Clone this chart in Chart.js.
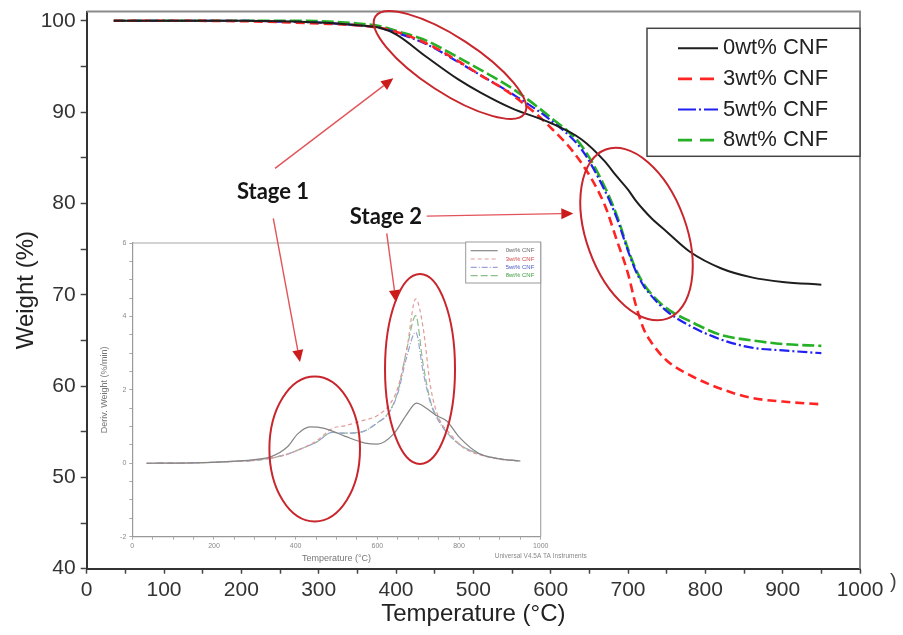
<!DOCTYPE html>
<html>
<head>
<meta charset="utf-8">
<script src="https://cdn.jsdelivr.net/npm/chart.js@4.4.1/dist/chart.umd.min.js"></script>
<style>
  html, body { margin: 0; padding: 0; background: #fff; }
  #wrap { position: relative; width: 903px; height: 635px; overflow: hidden; }
  #wrap canvas { position: absolute; }
</style>
</head>
<body>
<div id="wrap">
  <canvas id="tga" width="903" height="635" style="left:0;top:0"></canvas>
  <canvas id="dtg" width="510" height="336" style="left:90px;top:232px"></canvas>
  <canvas id="marks" width="903" height="635" style="left:0;top:0;pointer-events:none"></canvas>
</div>
<script>
var FONT = '"Liberation Sans", Arial, sans-serif';

// main TGA curves, weight (%) against temperature (°C)
var seriesNames = ['0wt% CNF', '3wt% CNF', '5wt% CNF', '8wt% CNF'];
var temps = [35, 100, 200, 250, 300, 350, 380, 400, 440, 480, 510, 550, 600, 640, 670, 685, 700, 710, 720, 730, 750, 780, 820, 860, 900, 950];
var w0 = [100, 100, 100, 99.95, 99.8, 99.5, 99.2, 98.5, 96.0, 93.6, 92.1, 90.4, 88.8, 87.0, 84.6, 83.0, 81.5, 80.3, 79.3, 78.4, 76.9, 74.7, 72.9, 71.9, 71.4, 71.1];
var w3 = [100, 100, 99.95, 99.85, 99.7, 99.5, 99.2, 98.8, 97.5, 95.6, 94.0, 91.9, 88.3, 84.4, 79.8, 76.1, 72.3, 68.9, 66.3, 64.8, 62.8, 61.2, 59.7, 58.7, 58.3, 58.0];
var w5 = [100, 100, 100, 99.9, 99.8, 99.5, 99.2, 98.7, 97.4, 95.5, 94.0, 92.0, 89.1, 85.9, 81.4, 78.5, 74.8, 72.6, 71.0, 69.9, 68.2, 66.6, 65.1, 64.2, 63.9, 63.6];
var w8 = [100, 100, 100, 100, 99.95, 99.7, 99.4, 98.9, 97.8, 96.0, 94.6, 92.6, 89.4, 86.3, 81.8, 78.8, 75.0, 72.8, 71.2, 70.1, 68.5, 67.1, 65.6, 65.0, 64.6, 64.4];
var xTickLabels = [0, 100, 200, 300, 400, 500, 600, 700, 800, 900, 1000];
var yTickLabels = [40, 50, 60, 70, 80, 90, 100];

// inset DTG curves, deriv. weight (%/min)
var dtgTemps0 = [35, 150, 250, 300, 340, 380, 405, 435, 470, 520, 570, 600, 640, 670, 696, 720, 745, 770, 800, 850, 900, 950];
var dtg0 = [0, 0.01, 0.06, 0.1, 0.18, 0.45, 0.8, 0.99, 0.95, 0.74, 0.55, 0.52, 0.8, 1.3, 1.64, 1.5, 1.3, 1.15, 0.72, 0.26, 0.12, 0.06];
var dtgTemps = [35, 150, 250, 300, 340, 380, 410, 450, 490, 520, 560, 600, 630, 650, 672, 694, 712, 730, 750, 780, 810, 860, 900, 950];
var dtg3 = [0, 0.01, 0.05, 0.08, 0.14, 0.25, 0.38, 0.6, 0.95, 1.02, 1.15, 1.3, 1.6, 2.05, 3.1, 4.48, 3.7, 2.1, 1.25, 0.78, 0.43, 0.2, 0.11, 0.06];
var dtg5 = [0, 0.01, 0.05, 0.08, 0.14, 0.25, 0.38, 0.57, 0.84, 0.82, 0.85, 1.1, 1.4, 1.9, 2.9, 3.57, 2.5, 1.65, 1.15, 0.72, 0.45, 0.22, 0.12, 0.06];
var dtg8 = [0, 0.01, 0.05, 0.08, 0.14, 0.25, 0.38, 0.57, 0.84, 0.82, 0.85, 1.1, 1.42, 1.95, 3.1, 4.02, 2.7, 1.7, 1.18, 0.72, 0.45, 0.22, 0.12, 0.06];
var dtgXLabels = [0, 200, 400, 600, 800, 1000];
var dtgYLabels = [-2, 0, 2, 4, 6];

var mainStyles = [
    { color: '#1e1e1e', width: 2, dash: [], legendDash: [] },
    { color: '#ff2424', width: 2.6, dash: [9, 5], legendDash: [14, 8] },
    { color: '#2020f0', width: 2.2, dash: [10, 3, 2, 3], legendDash: [18, 3, 2, 3] },
    { color: '#25b025', width: 2.6, dash: [12, 4], legendDash: [14, 8] }
];
var insetStyles = [
    { color: '#858585', width: 1.2, dash: [], legendDash: [], text: '#666' },
    { color: '#e39a9a', width: 1.2, dash: [4, 3], legendDash: [4, 3], text: '#d24a4a' },
    { color: '#9ba2d6', width: 1.2, dash: [6, 2, 1, 2], legendDash: [6, 2, 1, 2], text: '#4a58c4' },
    { color: '#8cbd8c', width: 1.2, dash: [7, 3], legendDash: [7, 3], text: '#3c9a3c' }
];

function pts(xs, ys) {
    return xs.map(function (x, i) { return { x: x, y: ys[i] }; });
}

function lineSet(label, data, st) {
    return {
        label: label,
        data: data,
        borderColor: st.color,
        borderWidth: st.width,
        borderDash: st.dash,
        pointRadius: 0,
        fill: false,
        cubicInterpolationMode: 'monotone'
    };
}

// keep the plot box where we put it, labels may overhang
function fixBox(w, h) {
    return function (s) {
        if (w) s.width = w;
        if (h) s.height = h;
        s.paddingTop = 0;
        s.paddingBottom = 0;
        s.paddingLeft = 0;
        s.paddingRight = 0;
    };
}

// gray frame on top and right of the plot area
var framePlugin = {
    id: 'frame',
    afterDraw: function (chart, args, o) {
        var a = chart.chartArea, ctx = chart.ctx;
        ctx.save();
        ctx.strokeStyle = o.color;
        ctx.lineWidth = o.width;
        ctx.beginPath();
        ctx.moveTo(a.left, a.top);
        ctx.lineTo(a.right, a.top);
        ctx.lineTo(a.right, a.bottom);
        ctx.stroke();
        ctx.restore();
    }
};

// boxed legend in the top right corner of the plot
var boxLegend = {
    id: 'boxLegend',
    afterDraw: function (chart, args, o) {
        var a = chart.chartArea, ctx = chart.ctx;
        var x = a.right - o.width, y = a.top + o.top;
        ctx.save();
        ctx.fillStyle = '#fff';
        ctx.fillRect(x, y, o.width, o.height);
        ctx.strokeStyle = o.border;
        ctx.lineWidth = o.borderWidth;
        ctx.strokeRect(x, y, o.width, o.height);
        ctx.font = o.font;
        ctx.textBaseline = 'middle';
        chart.data.datasets.forEach(function (ds, i) {
            var ly = y + o.first + i * o.step;
            ctx.strokeStyle = ds.borderColor;
            ctx.lineWidth = ds.borderWidth;
            ctx.setLineDash(o.styles[i].legendDash);
            ctx.beginPath();
            ctx.moveTo(x + o.lineStart, ly);
            ctx.lineTo(x + o.lineEnd, ly);
            ctx.stroke();
            ctx.setLineDash([]);
            ctx.fillStyle = o.styles[i].text || o.textColor;
            ctx.fillText(ds.label, x + o.textStart, ly);
        });
        if (o.extra) {
            ctx.font = o.extra.font;
            ctx.fillStyle = o.extra.color;
            ctx.textAlign = o.extra.align;
            ctx.fillText(o.extra.text, a.right + o.extra.dx, a.bottom + o.extra.dy);
        }
        ctx.restore();
    }
};

var tga = new Chart(document.getElementById('tga'), {
    type: 'line',
    data: {
        datasets: [
            lineSet(seriesNames[0], pts(temps, w0), mainStyles[0]),
            lineSet(seriesNames[1], pts(temps, w3), mainStyles[1]),
            lineSet(seriesNames[2], pts(temps, w5), mainStyles[2]),
            lineSet(seriesNames[3], pts(temps, w8), mainStyles[3])
        ]
    },
    options: {
        responsive: false,
        animation: false,
        events: [],
        layout: { padding: { left: 0, right: 43, top: 11.6, bottom: 0 } },
        plugins: {
            legend: { display: false },
            tooltip: { enabled: false },
            frame: { color: '#8a8a8a', width: 2 },
            boxLegend: {
                width: 213, height: 128, top: 16.7, first: 20, step: 30.6,
                lineStart: 31, lineEnd: 71, textStart: 76,
                border: '#444', borderWidth: 1.5, textColor: '#222',
                font: '22px ' + FONT, styles: mainStyles,
                extra: { text: ')', font: '20px ' + FONT, color: '#444', align: 'left', dx: 30, dy: 14 }
            }
        },
        scales: {
            x: {
                type: 'linear', min: 0, max: 1000,
                ticks: {
                    stepSize: 50, autoSkip: false, maxRotation: 0, includeBounds: false,
                    padding: 4, color: '#333', font: { family: FONT, size: 21 },
                    callback: function (v) { return xTickLabels.indexOf(v) >= 0 ? v : ''; }
                },
                grid: { drawOnChartArea: false, tickLength: 5, tickColor: '#444', tickWidth: 1.5 },
                border: { display: true, color: '#333', width: 2 },
                title: {
                    display: true, text: 'Temperature (°C)', color: '#222',
                    font: { family: FONT, size: 24 }, padding: { top: 0, bottom: 6.6 }
                },
                afterFit: fixBox(0, 66.3)
            },
            y: {
                type: 'linear', min: 40, max: 101,
                ticks: {
                    stepSize: 5, includeBounds: false, padding: 5, color: '#333',
                    font: { family: FONT, size: 21 },
                    callback: function (v) { return yTickLabels.indexOf(v) >= 0 ? v : ''; }
                },
                grid: { drawOnChartArea: false, tickLength: 6, tickColor: '#444', tickWidth: 1.5 },
                border: { display: true, color: '#333', width: 2 },
                title: {
                    display: true, text: 'Weight (%)', color: '#222',
                    font: { family: FONT, size: 24 }, padding: { top: 11.6, bottom: 0 }
                },
                afterFit: fixBox(86.7, 0)
            }
        }
    },
    plugins: [framePlugin, boxLegend]
});

var dtg = new Chart(document.getElementById('dtg'), {
    type: 'line',
    data: {
        datasets: [
            lineSet(seriesNames[0], pts(dtgTemps0, dtg0), insetStyles[0]),
            lineSet(seriesNames[1], pts(dtgTemps, dtg3), insetStyles[1]),
            lineSet(seriesNames[2], pts(dtgTemps, dtg5), insetStyles[2]),
            lineSet(seriesNames[3], pts(dtgTemps, dtg8), insetStyles[3])
        ]
    },
    options: {
        responsive: false,
        animation: false,
        events: [],
        layout: { padding: { left: 0, right: 59.3, top: 11, bottom: 0 } },
        plugins: {
            legend: { display: false },
            tooltip: { enabled: false },
            frame: { color: '#a8a8a8', width: 1.2 },
            boxLegend: {
                width: 75, height: 41, top: -1, first: 8.7, step: 8.3,
                lineStart: 5, lineEnd: 32, textStart: 40,
                border: '#999', borderWidth: 1, textColor: '#666',
                font: '6px ' + FONT, styles: insetStyles,
                extra: { text: 'Universal V4.5A TA Instruments', font: '6.5px ' + FONT, color: '#888', align: 'right', dx: 46, dy: 20 }
            }
        },
        scales: {
            x: {
                type: 'linear', min: 0, max: 1000,
                ticks: {
                    stepSize: 50, autoSkip: false, maxRotation: 0, includeBounds: false,
                    padding: 2, color: '#888', font: { family: FONT, size: 7 },
                    callback: function (v) { return dtgXLabels.indexOf(v) >= 0 ? v : ''; }
                },
                grid: { drawOnChartArea: false, tickLength: 3, tickColor: '#aaa', tickWidth: 1 },
                border: { display: true, color: '#999', width: 1.2 },
                title: {
                    display: true, text: 'Temperature (°C)', color: '#777',
                    font: { family: FONT, size: 9 }, padding: { top: 0, bottom: 3.6 }
                },
                afterFit: fixBox(0, 31.3)
            },
            y: {
                type: 'linear', min: -2, max: 6,
                ticks: {
                    stepSize: 0.5, includeBounds: false, padding: 3, color: '#888',
                    font: { family: FONT, size: 7 },
                    callback: function (v) { return dtgYLabels.indexOf(v) >= 0 ? v : ''; }
                },
                grid: { drawOnChartArea: false, tickLength: 3, tickColor: '#aaa', tickWidth: 1 },
                border: { display: true, color: '#999', width: 1.2 },
                title: {
                    display: true, text: 'Deriv. Weight (%/min)', color: '#777',
                    font: { family: FONT, size: 9 }, padding: { top: 9.6, bottom: 0 }
                },
                afterFit: fixBox(42.3, 0)
            }
        }
    },
    plugins: [framePlugin, boxLegend]
});

// red ellipses and arrows, placed in the data units of the chart they sit on
var insetOffset = { x: 90, y: 232 };
var mainEllipses = [
    { t: 469.8, v: 95.15, rx: 89, ry: 28, rot: 33 },
    { t: 711, v: 76.64, rx: 50, ry: 90, rot: -20 }
];
var insetEllipses = [
    { t: 446.6, v: 0.39, rx: 45.3, ry: 72.5, rot: 0 },
    { t: 704.5, v: 2.57, rx: 35, ry: 95, rot: 0 }
];
var arrows = [
    { from: [243.5, 83.83], to: [396.5, 93.69] },
    { from: [241.3, 78.36], to: [275.8, 62.62] },
    { from: [439.7, 78.61], to: [629.3, 78.9] },
    { from: [388, 76.71], to: [400, 69.19] }
];
var stageLabels = [
    { text: 'Stage 1', t: 240.9, v: 81.24 },
    { text: 'Stage 2', t: 387, v: 78.5 }
];

function drawMarks() {
    var ctx = document.getElementById('marks').getContext('2d');
    var sx = tga.scales.x, sy = tga.scales.y;
    var ix = dtg.scales.x, iy = dtg.scales.y;

    function ellipse(cx, cy, e) {
        ctx.beginPath();
        ctx.ellipse(cx, cy, e.rx, e.ry, e.rot * Math.PI / 180, 0, Math.PI * 2);
        ctx.stroke();
    }

    ctx.save();
    ctx.strokeStyle = '#c8262c';
    ctx.lineWidth = 2;
    mainEllipses.forEach(function (e) {
        ellipse(sx.getPixelForValue(e.t), sy.getPixelForValue(e.v), e);
    });
    insetEllipses.forEach(function (e) {
        ellipse(insetOffset.x + ix.getPixelForValue(e.t), insetOffset.y + iy.getPixelForValue(e.v), e);
    });

    arrows.forEach(function (a) {
        var x1 = sx.getPixelForValue(a.from[0]), y1 = sy.getPixelForValue(a.from[1]);
        var x2 = sx.getPixelForValue(a.to[0]), y2 = sy.getPixelForValue(a.to[1]);
        var ang = Math.atan2(y2 - y1, x2 - x1);
        var len = 12, half = 5.5;
        var bx = x2 - len * Math.cos(ang), by = y2 - len * Math.sin(ang);
        ctx.strokeStyle = '#e2545a';
        ctx.lineWidth = 1.4;
        ctx.beginPath();
        ctx.moveTo(x1, y1);
        ctx.lineTo(bx, by);
        ctx.stroke();
        ctx.fillStyle = '#cc1b1b';
        ctx.beginPath();
        ctx.moveTo(x2, y2);
        ctx.lineTo(bx + half * Math.sin(ang), by - half * Math.cos(ang));
        ctx.lineTo(bx - half * Math.sin(ang), by + half * Math.cos(ang));
        ctx.closePath();
        ctx.fill();
    });

    ctx.fillStyle = '#151515';
    ctx.font = 'bold 22px Lato, "Open Sans", sans-serif';
    ctx.textAlign = 'center';
    ctx.textBaseline = 'middle';
    stageLabels.forEach(function (s) {
        ctx.fillText(s.text, sx.getPixelForValue(s.t), sy.getPixelForValue(s.v));
    });
    ctx.restore();
}

drawMarks();
</script>
</body>
</html>
